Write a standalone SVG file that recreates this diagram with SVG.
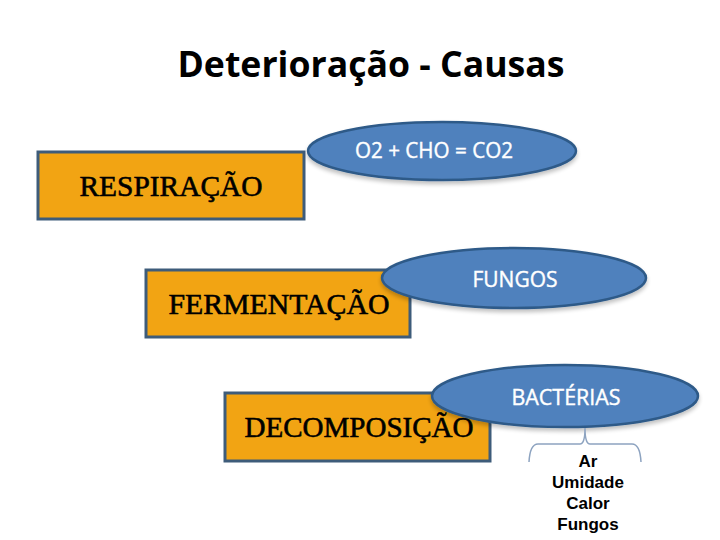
<svg xmlns="http://www.w3.org/2000/svg" width="720" height="540" viewBox="0 0 720 540">
<defs>
<style>
.box{fill:#F2A413;stroke:#3E5C7A;stroke-width:3}
.ell{fill:#4F81BD;stroke:#2E5A88;stroke-width:2.5}
.bt{font-family:"Liberation Serif","Times New Roman",serif;font-size:30px;fill:#000;stroke:#000;stroke-width:0.6;text-anchor:middle}
.et{font-family:"Open Sans","Liberation Sans",sans-serif;font-size:21px;fill:#fff;stroke:#fff;stroke-width:0.4;text-anchor:middle}
.lt{font-family:"Liberation Sans",Arial,sans-serif;font-size:17px;font-weight:bold;fill:#000;text-anchor:middle}
.conn{fill:none;stroke:#8DA3C0;stroke-width:1.5}
</style>
<filter id="sh" x="-10%" y="-20%" width="120%" height="150%">
<feGaussianBlur in="SourceAlpha" stdDeviation="2"/>
<feOffset dy="3"/>
<feComponentTransfer><feFuncA type="linear" slope="0.25"/></feComponentTransfer>
<feMerge><feMergeNode/><feMergeNode in="SourceGraphic"/></feMerge>
</filter>
</defs>
<rect width="720" height="540" fill="#fff"/>
<text x="371" y="77" font-family="'Open Sans','Liberation Sans',sans-serif" font-size="36" font-weight="bold" text-anchor="middle" textLength="387" lengthAdjust="spacingAndGlyphs">Deterioração - Causas</text>

<g id="respiracao">
<rect class="box" x="38" y="152" width="266" height="67"/>
<text class="bt" x="171" y="196" textLength="183" lengthAdjust="spacingAndGlyphs">RESPIRAÇÃO</text>
</g>
<g id="o2cho">
<ellipse class="ell" cx="442" cy="151" rx="134" ry="29" filter="url(#sh)"/>
<text class="et" x="434" y="158" textLength="158" lengthAdjust="spacingAndGlyphs">O2 + CHO = CO2</text>
</g>

<g id="fermentacao">
<rect class="box" x="146" y="270" width="264" height="67"/>
<text class="bt" x="279" y="314" textLength="221" lengthAdjust="spacingAndGlyphs">FERMENTAÇÃO</text>
</g>
<g id="fungos">
<ellipse class="ell" cx="514" cy="278" rx="132" ry="30" filter="url(#sh)"/>
<text class="et" x="515" y="287" textLength="85" lengthAdjust="spacingAndGlyphs">FUNGOS</text>
</g>

<g id="decomposicao">
<rect class="box" x="225" y="393" width="265" height="68"/>
<text class="bt" x="359" y="437" textLength="229" lengthAdjust="spacingAndGlyphs">DECOMPOSIÇÃO</text>
</g>
<g id="bacterias">
<ellipse class="ell" cx="565" cy="396" rx="133" ry="31" filter="url(#sh)"/>
<text class="et" x="566" y="405" textLength="109" lengthAdjust="spacingAndGlyphs">BACTÉRIAS</text>
</g>

<g id="connectors">
<path class="conn" d="M529,462 Q530,444 538,444 L580,444 Q585,444 585,428 Q585,444 590,444 L632,444 Q640,444 641,462"/>
</g>

<g id="factors">
<text class="lt" x="588" y="467">Ar</text>
<text class="lt" x="588" y="488">Umidade</text>
<text class="lt" x="588" y="509">Calor</text>
<text class="lt" x="588" y="530">Fungos</text>
</g>
</svg>
